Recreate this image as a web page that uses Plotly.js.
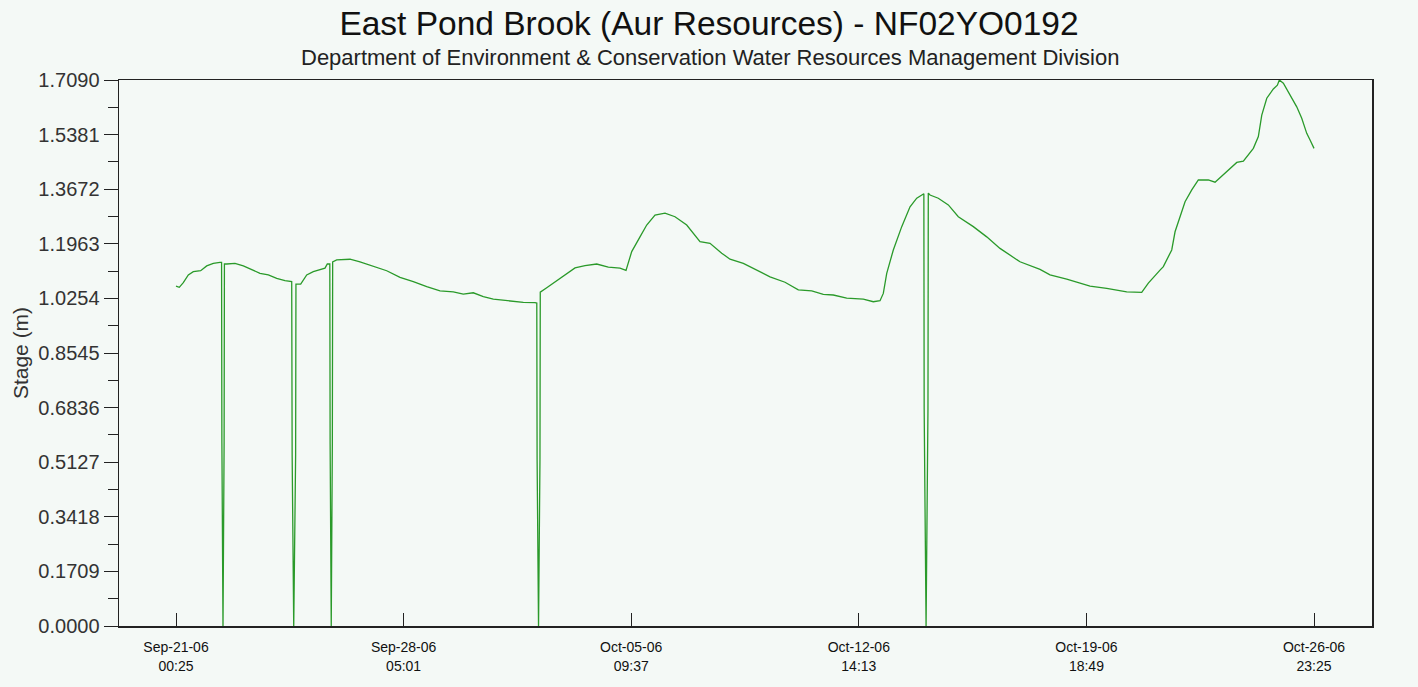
<!DOCTYPE html>
<html>
<head>
<meta charset="utf-8">
<script src="https://cdn.plot.ly/plotly-3.0.1.min.js"></script>
<style>
  html, body { margin: 0; padding: 0; background: #f4f9f6; }
  #chart { width: 1418px; height: 687px; }
</style>
</head>
<body>
<div id="chart"></div>
<script>
// Series start time (first reading)
const startTime = Date.UTC(2006, 8, 21, 0, 25);

// Time of each reading, in days after the start
const dayOffsets = [
  0, 0.104, 0.231, 0.389, 0.547, 0.780, 0.970, 1.179, 1.390,
  1.44, 1.45, 1.485, 1.52, 1.53,
  1.602, 1.864, 2.127, 2.392, 2.654, 2.917, 3.182, 3.444, 3.656,
  3.67, 3.72, 3.78, 3.79,
  3.940, 4.130, 4.338, 4.604, 4.708, 4.781, 4.86,
  4.87, 4.905, 4.94, 4.95,
  5.078, 5.498, 5.814, 6.234, 6.658, 7.078, 7.498, 7.922, 8.342, 8.762,
  9.078, 9.394, 9.710, 10.026, 10.342, 10.712, 10.974, 11.344, 11.40,
  11.41, 11.455, 11.50, 11.51,
  11.714, 11.976, 12.238, 12.608, 12.924, 13.293, 13.660, 14.029, 14.219,
  14.399, 14.661, 14.873, 15.135, 15.451, 15.767, 16.137, 16.557, 16.873,
  17.243, 17.505, 17.926, 18.349, 18.769, 19.243, 19.663, 20.087, 20.453,
  20.769, 21.192, 21.717, 22.033, 22.245, 22.349, 22.457, 22.665, 22.931,
  23.193, 23.405, 23.614, 23.63,
  23.64, 23.70, 23.76, 23.77,
  23.825, 24.087, 24.403, 24.719, 25.193, 25.616, 26.036, 26.668, 27.300,
  27.616, 28.144, 28.881, 29.408, 30.040, 30.514, 30.723, 31.092, 31.197,
  31.462, 31.567, 31.883, 32.095, 32.303, 32.619, 32.831, 33.093, 33.517,
  33.725, 34.041, 34.199, 34.307, 34.465, 34.673, 34.800, 34.862, 34.989,
  35.147, 35.412, 35.570, 35.728, 35.833, 35.958
];

// Stage readings (m)
const stage = [
  1.064, 1.060, 1.075, 1.099, 1.109, 1.112, 1.127, 1.135, 1.138,
  1.138, 0.573, 0.000, 0.573, 1.133,
  1.133, 1.135, 1.127, 1.116, 1.104, 1.099, 1.088, 1.081, 1.078,
  0.535, 0.000, 0.535, 1.070,
  1.070, 1.099, 1.109, 1.116, 1.120, 1.133, 1.133,
  0.570, 0.000, 0.570, 1.140,
  1.146, 1.148, 1.140, 1.127, 1.112, 1.091, 1.078, 1.062, 1.049, 1.046,
  1.039, 1.043, 1.031, 1.023, 1.020, 1.017, 1.013, 1.012, 1.011,
  0.520, 0.000, 0.520, 1.045,
  1.059, 1.078, 1.096, 1.121, 1.128, 1.133, 1.123, 1.120, 1.113,
  1.172, 1.218, 1.255, 1.286, 1.292, 1.281, 1.255, 1.203, 1.198,
  1.167, 1.148, 1.135, 1.114, 1.093, 1.076, 1.052, 1.049, 1.038,
  1.036, 1.026, 1.023, 1.015, 1.018, 1.041, 1.104, 1.177, 1.250,
  1.312, 1.339, 1.352, 1.353,
  0.679, 0.000, 0.679, 1.355,
  1.349, 1.339, 1.318, 1.281, 1.250, 1.218, 1.182, 1.140, 1.116,
  1.099, 1.086, 1.064, 1.057, 1.046, 1.044, 1.073, 1.114, 1.125,
  1.177, 1.234, 1.328, 1.365, 1.396, 1.396, 1.389, 1.412, 1.451,
  1.455, 1.495, 1.532, 1.599, 1.652, 1.681, 1.693, 1.709, 1.699,
  1.672, 1.625, 1.589, 1.542, 1.521, 1.495
];

// X tick positions and labels
const xTickTimes = ['2006-09-21 00:25', '2006-09-28 05:01', '2006-10-05 09:37',
                    '2006-10-12 14:13', '2006-10-19 18:49', '2006-10-26 23:25'];
const xTickLabels = ['Sep-21-06<br>00:25', 'Sep-28-06<br>05:01', 'Oct-05-06<br>09:37',
                     'Oct-12-06<br>14:13', 'Oct-19-06<br>18:49', 'Oct-26-06<br>23:25'];

// Y ticks
const yTicks = [0, 0.1709, 0.3418, 0.5127, 0.6836, 0.8545, 1.0254, 1.1963, 1.3672, 1.5381, 1.7090];

function dayToDate(d) {
  return new Date(startTime + d * 86400000).toISOString().replace('T', ' ').slice(0, 19);
}

const xDates = dayOffsets.map(dayToDate);
const font = '"Liberation Sans", Arial, Helvetica, sans-serif';

const trace = {
  x: xDates,
  y: stage,
  type: 'scatter',
  mode: 'lines',
  line: { color: '#2a9a2a', width: 1.3 },
  hoverinfo: 'x+y'
};

const layout = {
  width: 1418,
  height: 687,
  paper_bgcolor: '#f4f9f6',
  plot_bgcolor: '#f4f9f6',
  margin: { l: 119, r: 46, t: 80, b: 61 },
  showlegend: false,
  title: {
    text: 'East Pond Brook (Aur Resources) - NF02YO0192',
    x: 0.5, xref: 'container', xanchor: 'center',
    y: 1 - 23 / 687, yref: 'container', yanchor: 'middle',
    font: { family: font, size: 33.5, color: '#111' }
  },
  annotations: [{
    text: 'Department of Environment &amp; Conservation Water Resources Management Division',
    xref: 'paper', yref: 'paper',
    x: (710 - 119) / 1253, y: (626 - 58) / 546,
    xanchor: 'center', yanchor: 'middle',
    showarrow: false,
    font: { family: font, size: 22, color: '#222' }
  }],
  xaxis: {
    type: 'date',
    range: [dayToDate(-1.801), dayToDate(37.79)],
    tickmode: 'array',
    tickvals: xTickTimes,
    ticktext: xTickLabels,
    ticks: 'inside',
    ticklen: 13,
    tickwidth: 1,
    tickcolor: '#222',
    tickfont: { family: font, size: 14, color: '#111' },
    ticklabelstandoff: 8,
    showline: true,
    linecolor: '#222',
    linewidth: 1.5,
    mirror: true,
    showgrid: false,
    zeroline: false
  },
  yaxis: {
    range: [0, 1.709],
    tickmode: 'array',
    tickvals: yTicks,
    ticktext: yTicks.map(v => v.toFixed(4)),
    ticks: 'outside',
    ticklen: 14,
    tickwidth: 1,
    tickcolor: '#222',
    tickfont: { family: font, size: 20, color: '#333' },
    minor: { ticks: 'outside', ticklen: 10, tickwidth: 1, tickcolor: '#222',
             tickvals: yTicks.slice(0, -1).map((v, i) => (v + yTicks[i + 1]) / 2), showgrid: false },
    showline: true,
    linecolor: '#222',
    linewidth: 1.5,
    mirror: true,
    showgrid: false,
    zeroline: false,
    title: { text: 'Stage (m)', font: { family: font, size: 21, color: '#333' }, standoff: 4 }
  }
};

Plotly.newPlot('chart', [trace], layout, { displayModeBar: false, staticPlot: true });
</script>
</body>
</html>
